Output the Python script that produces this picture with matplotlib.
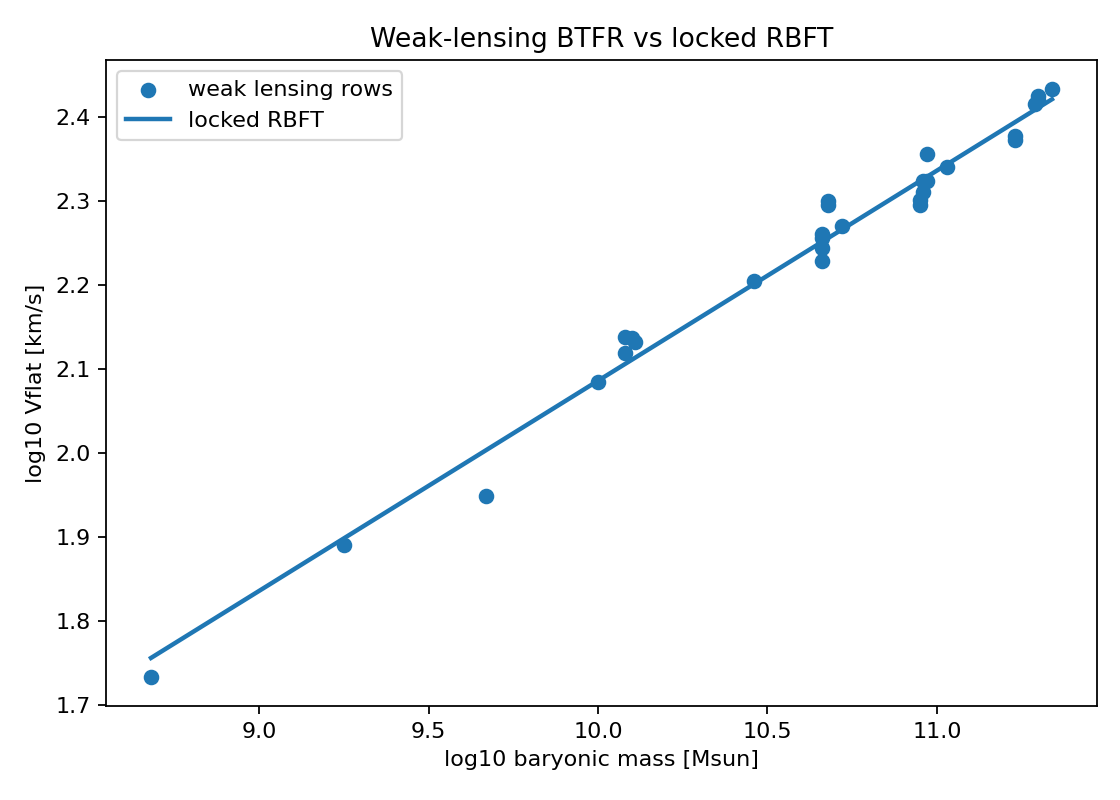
import numpy as np
import matplotlib
matplotlib.use("Agg")
import matplotlib.pyplot as plt

# weak lensing rows: log10 Mb [Msun], log10 Vflat [km/s]
log_mb = [8.68, 9.25, 9.67, 10.00, 10.08, 10.10, 10.11, 10.08, 10.46,
          10.66, 10.66, 10.66, 10.66, 10.68, 10.68, 10.72,
          10.97, 11.03, 10.96, 10.97, 10.96, 10.95, 10.95,
          11.23, 11.23, 11.29, 11.30, 11.30, 11.34]
log_v = [1.734, 1.891, 1.949, 2.085, 2.138, 2.137, 2.132, 2.119, 2.205,
         2.229, 2.244, 2.256, 2.261, 2.300, 2.295, 2.270,
         2.356, 2.340, 2.324, 2.324, 2.311, 2.301, 2.295,
         2.378, 2.373, 2.415, 2.425, 2.420, 2.433]

# locked RBFT: Mb = A * V^4
slope = 0.25
log_a = 1.655

x_line = np.linspace(min(log_mb), max(log_mb), 100)
y_line = slope * (x_line - log_a)

fig, ax = plt.subplots(figsize=(7, 5), dpi=160)
ax.scatter(log_mb, log_v, label="weak lensing rows")
ax.plot(x_line, y_line, lw=2, label="locked RBFT")
ax.set_xlabel("log10 baryonic mass [Msun]")
ax.set_ylabel("log10 Vflat [km/s]")
ax.set_title("Weak-lensing BTFR vs locked RBFT")
ax.legend(loc="upper left")
fig.subplots_adjust(left=0.0946, right=0.9795, top=0.925, bottom=0.1175)
fig.savefig("out.png")
